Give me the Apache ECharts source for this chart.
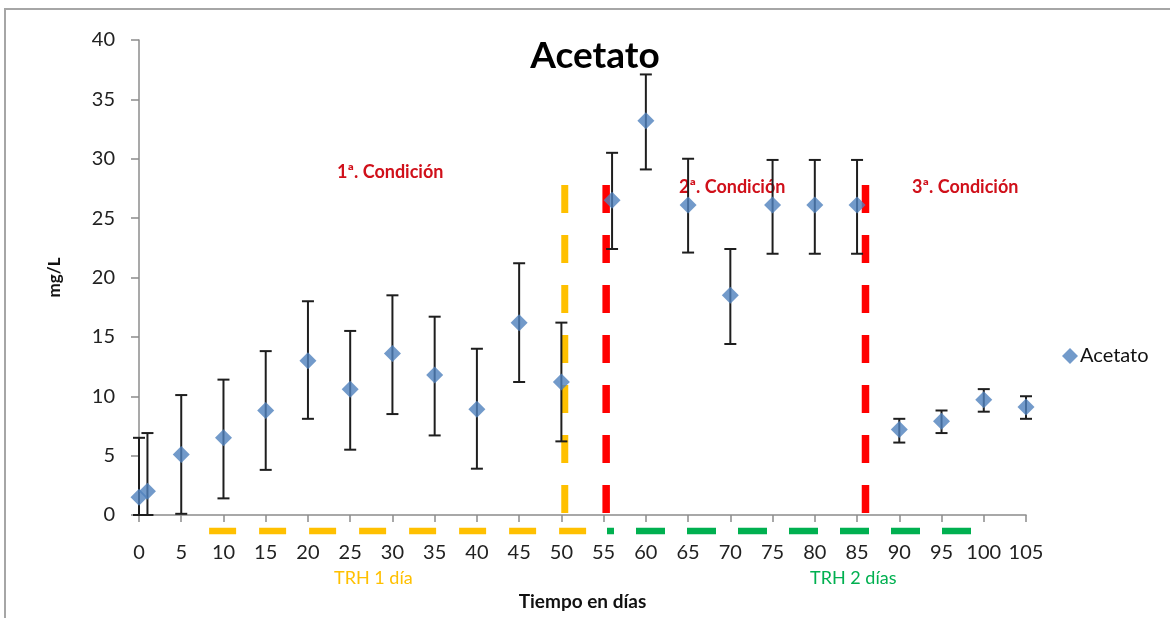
<!DOCTYPE html>
<html>
<head>
<meta charset="utf-8">
<script src="https://cdn.jsdelivr.net/npm/echarts@6/dist/echarts.min.js"></script>
<style>
  html, body { margin: 0; padding: 0; background: #fff; }
  #chart { width: 1170px; height: 618px; }
</style>
</head>
<body>
<div id="chart"></div>
<script>
// Acetate concentration over time (mg/L), with standard deviation
const dias      = [0, 1, 5, 10, 15, 20, 25, 30, 35, 40, 45, 50, 56, 60, 65, 70, 75, 80, 85, 90, 95, 100, 105];
const acetato   = [1.5, 2.0, 5.1, 6.5, 8.8, 13.0, 10.6, 13.6, 11.8, 8.9, 16.2, 11.2, 26.5, 33.2, 26.1, 18.5, 26.1, 26.1, 26.1, 7.2, 7.9, 9.7, 9.1];
const errorInf  = [1.5, 2.0, 5.0, 5.1, 5.0, 4.9, 5.1, 5.1, 5.1, 5.0, 5.0, 5.0, 4.1, 4.1, 4.0, 4.1, 4.1, 4.1, 4.1, 1.1, 1.0, 1.0, 1.0];
const errorSup  = [5.0, 4.9, 5.0, 4.9, 5.0, 5.0, 4.9, 4.9, 4.9, 5.1, 5.0, 5.0, 4.0, 3.9, 3.9, 3.9, 3.8, 3.8, 3.8, 0.9, 0.9, 0.9, 0.9];

// Condition boundaries (day) and the height reached by the dashed markers
const limiteTRH1   = 50.4;
const limiteCond2  = 55.3;
const limiteCond3  = 86.0;
const alturaLimite = 27.8;

// Hydraulic retention time periods, drawn just below the time axis
const periodoTRH1 = [8.3, 53.6];
const periodoTRH2 = [55.4, 99.0];
const nivelTRH    = -1.35;

const ticksX = { min: 0, max: 105, interval: 5 };
const ticksY = { min: 0, max: 40, interval: 5 };

const FONT = 'Lato, "Open Sans", sans-serif';
const AZUL = '#4f81bd';
const ROJO = '#ff0000';
const AMARILLO = '#ffc000';
const VERDE = '#00b050';
const ROJO_TEXTO = '#d0101a';

const puntos = dias.map((d, i) => [d, acetato[i]]);
const barras = dias.map((d, i) => [d, acetato[i] - errorInf[i], acetato[i] + errorSup[i]]);

function lineaVertical(x) {
  return [[x, alturaLimite], [x, 0]];
}
function lineaHorizontal(rango) {
  return [[rango[0], nivelTRH], [rango[1], nivelTRH]];
}

const chart = echarts.init(document.getElementById('chart'), null, { renderer: 'canvas' });

chart.setOption({
  animation: false,
  backgroundColor: '#ffffff',
  title: {
    text: 'Acetato',
    left: 590,
    top: 33,
    textAlign: 'center',
    textStyle: { fontFamily: FONT, fontWeight: 'bold', fontSize: 37, color: '#000' }
  },
  legend: {
    data: ['Acetato'],
    left: 1057,
    top: 341,
    icon: 'diamond',
    itemWidth: 16,
    itemHeight: 16,
    itemGap: 4,
    textStyle: { fontFamily: FONT, fontSize: 20, color: '#111', padding: [0, 0, 0, -3] }
  },
  grid: { left: 139, right: 144, top: 40, bottom: 103 },
  xAxis: {
    type: 'value',
    min: ticksX.min, max: ticksX.max, interval: ticksX.interval,
    name: 'Tiempo en días',
    nameLocation: 'middle',
    nameGap: 77,
    nameTextStyle: { fontFamily: FONT, fontWeight: 'bold', fontSize: 19, color: '#111' },
    axisLine: { lineStyle: { color: '#8c8c8c', width: 1.5 } },
    axisTick: { show: true, length: 7, lineStyle: { color: '#8c8c8c', width: 1.5 } },
    axisLabel: { fontFamily: FONT, fontSize: 20, color: '#222', margin: 28 },
    splitLine: { show: false }
  },
  yAxis: {
    type: 'value',
    min: ticksY.min, max: ticksY.max, interval: ticksY.interval,
    name: 'mg/L',
    nameLocation: 'middle',
    nameGap: 76,
    nameTextStyle: { fontFamily: FONT, fontWeight: 'bold', fontSize: 17, color: '#111' },
    axisLine: { show: true, lineStyle: { color: '#8c8c8c', width: 1.5 } },
    axisTick: { show: true, inside: false, length: 8, lineStyle: { color: '#8c8c8c', width: 1.5 } },
    axisLabel: { fontFamily: FONT, fontSize: 20, color: '#222', margin: 24 },
    splitLine: { show: false }
  },
  graphic: [
    {
      type: 'rect', silent: true, z: -1,
      shape: { x: 5, y: 9, width: 1200, height: 700 },
      style: { fill: 'none', stroke: '#a6a6a6', lineWidth: 2 }
    },
    { type: 'text', left: 337, top: 163, style: { text: '1ª. Condición', fill: ROJO_TEXTO, font: 'bold 18px ' + FONT } },
    { type: 'text', left: 679, top: 178, style: { text: '2ª. Condición', fill: ROJO_TEXTO, font: 'bold 18px ' + FONT } },
    { type: 'text', left: 912, top: 178, style: { text: '3ª. Condición', fill: ROJO_TEXTO, font: 'bold 18px ' + FONT } },
    { type: 'text', left: 334, top: 569, style: { text: 'TRH 1 día', fill: AMARILLO, font: '18px ' + FONT } },
    { type: 'text', left: 810, top: 569, style: { text: 'TRH 2 días', fill: VERDE, font: '18px ' + FONT } }
  ],
  series: [
    {
      name: 'TRH1', type: 'line', data: lineaHorizontal(periodoTRH1), clip: false,
      symbol: 'none', silent: true, z: 1,
      lineStyle: { color: AMARILLO, width: 6.5, type: [27, 23], cap: 'butt' }
    },
    {
      name: 'TRH2', type: 'line', data: lineaHorizontal(periodoTRH2), clip: false,
      symbol: 'none', silent: true, z: 1,
      lineStyle: { color: VERDE, width: 6.5, type: [29, 22], dashOffset: 22, cap: 'butt' }
    },
    {
      name: 'LimiteTRH', type: 'line', data: lineaVertical(limiteTRH1),
      symbol: 'none', silent: true, z: 1,
      lineStyle: { color: AMARILLO, width: 7, type: [28, 22], cap: 'butt' }
    },
    {
      name: 'Cond2', type: 'line', data: lineaVertical(limiteCond2),
      symbol: 'none', silent: true, z: 1,
      lineStyle: { color: ROJO, width: 7.5, type: [28, 22], cap: 'butt' }
    },
    {
      name: 'Cond3', type: 'line', data: lineaVertical(limiteCond3),
      symbol: 'none', silent: true, z: 1,
      lineStyle: { color: ROJO, width: 7.5, type: [28, 22], cap: 'butt' }
    },
    {
      name: 'Desviación', type: 'custom', silent: true, z: 2, clip: false,
      data: barras,
      renderItem: function (params, api) {
        const x = api.value(0);
        const lo = api.coord([x, Math.max(api.value(1), 0)]);
        const hi = api.coord([x, api.value(2)]);
        const w = 6;
        const st = { stroke: '#1e1e1e', lineWidth: 2 };
        return {
          type: 'group',
          children: [
            { type: 'line', shape: { x1: lo[0], y1: lo[1], x2: hi[0], y2: hi[1] }, style: st },
            { type: 'line', shape: { x1: hi[0] - w, y1: hi[1], x2: hi[0] + w, y2: hi[1] }, style: st },
            { type: 'line', shape: { x1: lo[0] - w, y1: lo[1], x2: lo[0] + w, y2: lo[1] }, style: st }
          ]
        };
      }
    },
    {
      name: 'Acetato', type: 'scatter', data: puntos, z: 3,
      symbol: 'diamond', symbolSize: 17,
      itemStyle: { color: AZUL }
    }
  ]
});
</script>
</body>
</html>
